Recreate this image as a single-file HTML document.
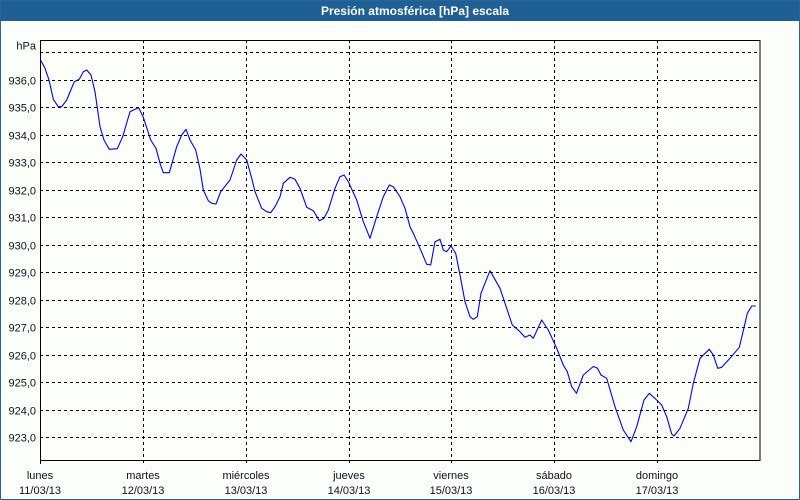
<!DOCTYPE html>
<html><head><meta charset="utf-8"><style>
html,body{margin:0;padding:0;}
body{width:800px;height:500px;overflow:hidden;background:#fcfefa;}
svg{display:block;}
text{font-family:"Liberation Sans",sans-serif;font-size:11px;fill:#101020;}
</style></head><body>
<svg width="800" height="500" viewBox="0 0 800 500" xmlns="http://www.w3.org/2000/svg">
<rect x="0" y="0" width="800" height="500" fill="#fcfefa"/>
<rect x="0" y="0" width="800" height="21" fill="#1e5f96"/>
<rect x="0.5" y="0.5" width="799" height="499" fill="none" stroke="#2a6597" stroke-width="1"/>
<text x="415" y="15" text-anchor="middle" style="font-weight:bold;fill:#ffffff;font-size:12px">Presión atmosférica [hPa] escala</text>

<g stroke="#000" stroke-width="1" stroke-dasharray="3,3" fill="none">
<line x1="40" y1="52.5" x2="760" y2="52.5"/>
<line x1="40" y1="80.5" x2="760" y2="80.5"/>
<line x1="40" y1="107.5" x2="760" y2="107.5"/>
<line x1="40" y1="135.5" x2="760" y2="135.5"/>
<line x1="40" y1="162.5" x2="760" y2="162.5"/>
<line x1="40" y1="190.5" x2="760" y2="190.5"/>
<line x1="40" y1="217.5" x2="760" y2="217.5"/>
<line x1="40" y1="245.5" x2="760" y2="245.5"/>
<line x1="40" y1="272.5" x2="760" y2="272.5"/>
<line x1="40" y1="300.5" x2="760" y2="300.5"/>
<line x1="40" y1="327.5" x2="760" y2="327.5"/>
<line x1="40" y1="355.5" x2="760" y2="355.5"/>
<line x1="40" y1="382.5" x2="760" y2="382.5"/>
<line x1="40" y1="410.5" x2="760" y2="410.5"/>
<line x1="40" y1="437.5" x2="760" y2="437.5"/>
<line x1="143.5" y1="40" x2="143.5" y2="463"/>
<line x1="246.5" y1="40" x2="246.5" y2="463"/>
<line x1="349.5" y1="40" x2="349.5" y2="463"/>
<line x1="451.5" y1="40" x2="451.5" y2="463"/>
<line x1="554.5" y1="40" x2="554.5" y2="463"/>
<line x1="657.5" y1="40" x2="657.5" y2="463"/>
</g>
<rect x="40.5" y="40.5" width="719.5" height="420" fill="none" stroke="#000" stroke-width="1"/>
<line x1="40.5" y1="460" x2="40.5" y2="464" stroke="#000" stroke-width="1"/>

<g text-anchor="end">
<text x="36" y="49.5">hPa</text>
<text x="36" y="84.5">936,0</text>
<text x="36" y="111.5">935,0</text>
<text x="36" y="139.5">934,0</text>
<text x="36" y="166.5">933,0</text>
<text x="36" y="194.5">932,0</text>
<text x="36" y="221.5">931,0</text>
<text x="36" y="249.5">930,0</text>
<text x="36" y="276.5">929,0</text>
<text x="36" y="304.5">928,0</text>
<text x="36" y="331.5">927,0</text>
<text x="36" y="359.5">926,0</text>
<text x="36" y="386.5">925,0</text>
<text x="36" y="414.5">924,0</text>
<text x="36" y="441.5">923,0</text>
</g>

<g text-anchor="middle">
<text x="40" y="479">lunes</text><text x="40" y="494">11/03/13</text>
<text x="143" y="479">martes</text><text x="143" y="494">12/03/13</text>
<text x="246" y="479">miércoles</text><text x="246" y="494">13/03/13</text>
<text x="349" y="479">jueves</text><text x="349" y="494">14/03/13</text>
<text x="451" y="479">viernes</text><text x="451" y="494">15/03/13</text>
<text x="554" y="479">sábado</text><text x="554" y="494">16/03/13</text>
<text x="657" y="479">domingo</text><text x="657" y="494">17/03/13</text>
</g>

<polyline fill="none" stroke="#0000ff" stroke-width="1.1" stroke-linejoin="round" points="
41,60.7 45,68.3 49,80 53.3,99.3 58.3,106.7 61.7,106.7 66.7,100 74.3,81.7 79.3,79.3 83.3,71.7 86.7,70 91,75 95,91.7 100,126.7 104,140 109.3,149.3 117.3,148.7 122.7,136.7 130,111.7 135,109.3 138.7,107.7 143.3,117.3 150.7,140 156,148.3 160,163.3 163.3,172.7 169.3,172.7 176.7,146.7 181.7,135 186,129.3 190,140 195.7,150 200,169 203.3,190 208.3,200.7 211.7,203.3 216,204 220.7,191.7 230,180 236.7,160 241,154 246.7,160 251.7,178.3 255,191.7 261.7,208.3 266.7,211.7 270.7,212.7 275,206.7 280,196.7 283.3,183.3 290,177.3 295,179.3 300,188.3 306.7,207.3 313.3,210.7 319.3,220.7 324,218.3 328.3,210 335,188.3 340,176.7 344,175 348.3,181.7 356.7,200 363.3,221.7 370,238.3 376.7,216.7 383.3,196.7 389.3,185 393.3,186.7 400,196.7 405,208.3 410,226.7 413.3,233.3 420,248.3 426.7,264.3 430.7,265 435,241.7 440,239.3 443.3,250 446.7,251.7 451,246 455.7,253.3 460,275 465,301.7 470,316.7 473.3,319.3 477.3,316.7 481,293.3 490,270.7 500,288.3 506.7,308.3 512.3,325 520,331.7 525,337.3 530,335 533.3,338.3 541.7,320 548.3,330 556.7,348.3 563.3,365 567.3,371.7 571.7,386.7 576.5,393.3 583.3,375 593.3,366.5 597.5,368.3 601,375 606.7,378.3 615,406.7 623.3,430 631,441.7 636.7,426.7 644,400 649.3,393.3 656.7,400 661.7,405 666.7,416.7 671.7,434 674,436 680,428.3 688.3,408.3 693.3,383.3 700,358.3 709.3,349.3 713.3,355 717.7,368.3 721.7,367.3 730,358.3 739.3,347.3 742.7,333.3 747.3,313.3 751.7,306 755.7,306"/>
</svg>
</body></html>
